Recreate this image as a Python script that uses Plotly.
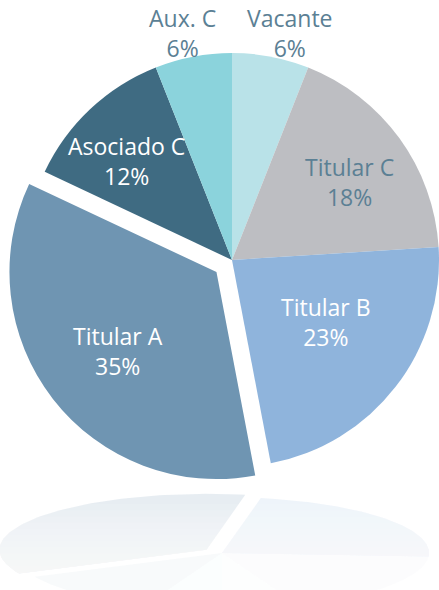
import numpy as np
import plotly.graph_objects as go

# ---- data ----
labels = ["Vacante", "Titular C", "Titular B", "Titular A", "Asociado C", "Aux. C"]
values = [6, 18, 23, 35, 12, 6]
pulled_label = "Titular A"

# ---- style ----
colors = ["#b9e2e8", "#bdbec2", "#8fb4dc", "#6f95b2", "#3f6b82", "#8bd3dc"]
text_colors = ["#5b8094", "#5b8094", "#ffffff", "#ffffff", "#ffffff", "#5b8094"]
label_r = [1.132, 0.681, 0.545, 0.610, 0.702, 1.122]      # label radius / R
label_dang = [3.5, 2.4, -4.2, -0.8, -3.6, -1.4]          # label angle nudge (deg)
refl_alpha = [0.03, 0.04, 0.15, 0.17, 0.035, 0.03]
FONT = "Open Sans"
FS = 23

W, H = 439, 590
CX, CY, R = 232, 260, 207            # pie centre / radius in px
PULL = 0.095                         # pull-out of the highlighted slice (fraction of R)
RCX_SHIFT, RCY, RK = -10, 553, 0.27  # reflection: x shift, centre y, squash

vals = np.array(values, dtype=float)
frac = vals / vals.sum()
cum = np.concatenate([[0], np.cumsum(frac)])
pi_idx = labels.index(pulled_label)
mid_ang = (cum[:-1] + cum[1:]) / 2 * 2 * np.pi
ox_p = PULL * R * np.sin(mid_ang[pi_idx])
oy_p = -PULL * R * np.cos(mid_ang[pi_idx])   # screen-down offset


def dom(cx, cy):
    return dict(x=[(cx - R) / W, (cx + R) / W],
                y=[1 - (cy + R) / H, 1 - (cy - R) / H])


def hexrgba(h, a):
    h = h.lstrip("#")
    return "rgba(%d,%d,%d,%.3f)" % (int(h[0:2], 16), int(h[2:4], 16), int(h[4:6], 16), a)


fig = go.Figure()

# ---- reflection (computed from the same values) ----
for i, lab in enumerate(labels):
    ox = ox_p if i == pi_idx else 0.0
    oy = oy_p if i == pi_idx else 0.0
    th = np.linspace(cum[i], cum[i + 1], 80) * 2 * np.pi
    cxm, cym = CX + ox, CY + oy
    xs = np.concatenate([[cxm], cxm + R * np.sin(th), [cxm]]) + RCX_SHIFT
    ys_main = np.concatenate([[cym], cym - R * np.cos(th), [cym]])
    ys = RCY - RK * (ys_main - CY)
    fig.add_trace(go.Scatter(x=xs, y=ys, mode="lines", fill="toself",
                             line=dict(width=0), fillcolor=hexrgba(colors[i], refl_alpha[i]),
                             hoverinfo="skip", showlegend=False))

# fade of the reflection towards the bottom
top_r = RCY - RK * R - 5
shapes = []
nb = 14
for k in range(nb):
    y0 = top_r + 12 + k * (H - top_r - 12) / nb
    shapes.append(dict(type="rect", xref="x", yref="y", x0=0, x1=W, y0=y0, y1=H + 5,
                       fillcolor="rgba(255,255,255,0.11)", line=dict(width=0), layer="above"))

# ---- main pie (all but pulled slice) ----
c1 = [("rgba(0,0,0,0)" if l == pulled_label else c) for l, c in zip(labels, colors)]
fig.add_trace(go.Pie(
    labels=labels, values=values, sort=False, direction="clockwise", rotation=0,
    marker=dict(colors=c1, line=dict(width=0)), textinfo="none",
    domain=dom(CX, CY), showlegend=False, hoverinfo="label+percent",
))

# ---- pulled slice ----
c2 = [(c if l == pulled_label else "rgba(0,0,0,0)") for l, c in zip(labels, colors)]
fig.add_trace(go.Pie(
    labels=labels, values=values, sort=False, direction="clockwise", rotation=0,
    marker=dict(colors=c2, line=dict(width=0)), textinfo="none",
    domain=dom(CX + ox_p, CY + oy_p), showlegend=False, hoverinfo="label+percent",
))

# ---- labels (placed at the slice mid-angle) ----
annotations = []
for i, lab in enumerate(labels):
    cx = CX + (ox_p if i == pi_idx else 0)
    cy = CY + (oy_p if i == pi_idx else 0)
    a = mid_ang[i] + np.deg2rad(label_dang[i])
    lx = cx + label_r[i] * R * np.sin(a)
    ly = cy - label_r[i] * R * np.cos(a)
    pct = "%d%%" % round(frac[i] * 100)
    annotations.append(dict(x=lx, y=ly, xref="x", yref="y", text=lab + "<br>" + pct,
                            showarrow=False, xanchor="center", yanchor="middle", align="center",
                            font=dict(family=FONT, size=FS, color=text_colors[i])))

fig.update_layout(
    width=W, height=H, margin=dict(l=0, r=0, t=0, b=0),
    paper_bgcolor="white", plot_bgcolor="white",
    xaxis=dict(range=[0, W], visible=False, fixedrange=True),
    yaxis=dict(range=[H, 0], visible=False, fixedrange=True),
    annotations=annotations, shapes=shapes,
    font=dict(family=FONT),
)

fig.write_html("out.html", config={"displayModeBar": False},
               post_script="document.body.style.margin='0';document.body.style.overflow='hidden';")
